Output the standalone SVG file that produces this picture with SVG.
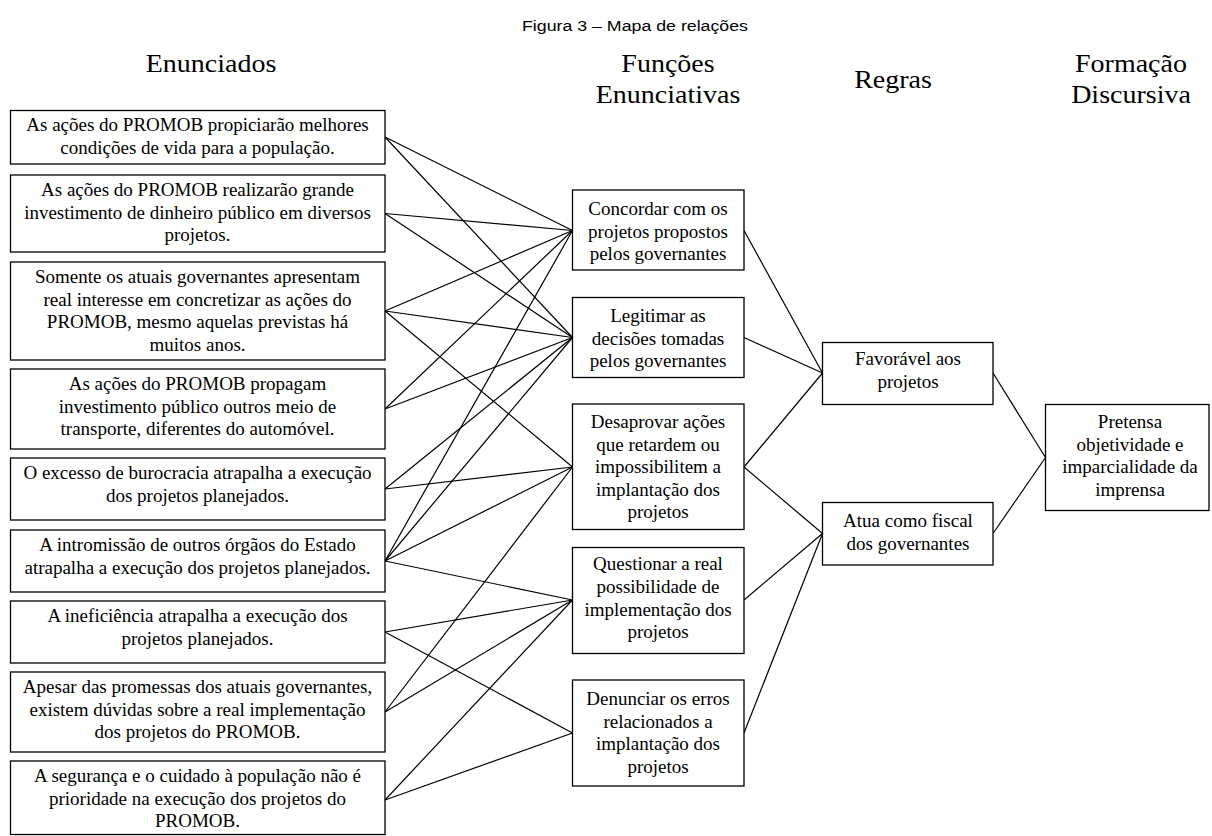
<svg xmlns="http://www.w3.org/2000/svg" width="1212" height="836" viewBox="0 0 1212 836">
<style>
.bx{fill:#fff;stroke:#000;stroke-width:1.3}
.t{font-family:"Liberation Serif","Times New Roman",serif;font-size:19px;fill:#000;text-anchor:middle}
.h{font-family:"Liberation Serif","Times New Roman",serif;font-size:25px;fill:#000;text-anchor:middle}
.ti{font-family:"Liberation Sans",Arial,sans-serif;font-size:15.5px;fill:#000;text-anchor:middle}
.c line{stroke:#000;stroke-width:1.2}
</style>
<rect width="1212" height="836" fill="#fff"/>
<text class="ti" x="635" y="31" textLength="226" lengthAdjust="spacingAndGlyphs">Figura 3 – Mapa de relações</text>
<g id="headers">
<g transform="translate(211,72) scale(1.12,1)"><text class="h" x="0" y="0">Enunciados</text></g>
<g transform="translate(668,72) scale(1.12,1)"><text class="h" x="0" y="0">Funções</text><text class="h" x="0" y="31">Enunciativas</text></g>
<g transform="translate(893,88) scale(1.12,1)"><text class="h" x="0" y="0">Regras</text></g>
<g transform="translate(1131,72) scale(1.12,1)"><text class="h" x="0" y="0">Formação</text><text class="h" x="0" y="31">Discursiva</text></g>
</g>
<g class="c" id="connectors">
<line x1="385" y1="137" x2="572.5" y2="230.5"/>
<line x1="385" y1="137" x2="572.5" y2="337.5"/>
<line x1="385" y1="213.5" x2="572.5" y2="230.5"/>
<line x1="385" y1="213.5" x2="572.5" y2="337.5"/>
<line x1="385" y1="311" x2="572.5" y2="230.5"/>
<line x1="385" y1="311" x2="572.5" y2="337.5"/>
<line x1="385" y1="311" x2="572.5" y2="467"/>
<line x1="385" y1="409" x2="572.5" y2="230.5"/>
<line x1="385" y1="409" x2="572.5" y2="337.5"/>
<line x1="385" y1="489" x2="572.5" y2="337.5"/>
<line x1="385" y1="489" x2="572.5" y2="467"/>
<line x1="385" y1="561" x2="572.5" y2="230.5"/>
<line x1="385" y1="561" x2="572.5" y2="337.5"/>
<line x1="385" y1="561" x2="572.5" y2="467"/>
<line x1="385" y1="561" x2="572.5" y2="600"/>
<line x1="385" y1="632" x2="572.5" y2="600"/>
<line x1="385" y1="632" x2="572.5" y2="733"/>
<line x1="385" y1="712" x2="572.5" y2="467"/>
<line x1="385" y1="712" x2="572.5" y2="600"/>
<line x1="385" y1="800" x2="572.5" y2="600"/>
<line x1="385" y1="800" x2="572.5" y2="733"/>
<line x1="744" y1="230.5" x2="822.5" y2="373"/>
<line x1="744" y1="337.5" x2="822.5" y2="373"/>
<line x1="744" y1="467" x2="822.5" y2="373"/>
<line x1="744" y1="467" x2="822.5" y2="533.5"/>
<line x1="744" y1="600" x2="822.5" y2="533.5"/>
<line x1="744" y1="733" x2="822.5" y2="533.5"/>
<line x1="993" y1="373" x2="1045.5" y2="457.5"/>
<line x1="993" y1="533.5" x2="1045.5" y2="457.5"/>
</g>
<g id="e1"><rect class="bx" x="10.5" y="110.5" width="374.5" height="53.5"/><text class="t" x="197.5" y="131">As ações do PROMOB propiciarão  melhores</text><text class="t" x="197.5" y="153.5">condições de vida para a população.</text></g>
<g id="e2"><rect class="bx" x="10.5" y="175" width="374.5" height="77"/><text class="t" x="197.5" y="196">As ações do PROMOB realizarão  grande</text><text class="t" x="197.5" y="218.5">investimento de dinheiro público em diversos</text><text class="t" x="197.5" y="241">projetos.</text></g>
<g id="e3"><rect class="bx" x="10.5" y="262" width="374.5" height="98"/><text class="t" x="197.5" y="283">Somente os atuais governantes apresentam</text><text class="t" x="197.5" y="305.5">real interesse em concretizar as ações do</text><text class="t" x="197.5" y="328">PROMOB, mesmo aquelas previstas há</text><text class="t" x="197.5" y="350.5">muitos anos.</text></g>
<g id="e4"><rect class="bx" x="10.5" y="369" width="374.5" height="80"/><text class="t" x="197.5" y="390">As ações do PROMOB propagam</text><text class="t" x="197.5" y="412.5">investimento público outros meio de</text><text class="t" x="197.5" y="435">transporte, diferentes do automóvel.</text></g>
<g id="e5"><rect class="bx" x="10.5" y="458" width="374.5" height="62"/><text class="t" x="197.5" y="479">O excesso de burocracia  atrapalha a execução</text><text class="t" x="197.5" y="501.5">dos projetos planejados.</text></g>
<g id="e6"><rect class="bx" x="10.5" y="530" width="374.5" height="62"/><text class="t" x="197.5" y="551">A intromissão de outros órgãos do Estado</text><text class="t" x="197.5" y="573.5">atrapalha a execução dos projetos planejados.</text></g>
<g id="e7"><rect class="bx" x="10.5" y="601" width="374.5" height="62"/><text class="t" x="197.5" y="622">A ineficiência  atrapalha a execução dos</text><text class="t" x="197.5" y="644.5">projetos planejados.</text></g>
<g id="e8"><rect class="bx" x="10.5" y="672" width="374.5" height="80"/><text class="t" x="197.5" y="693">Apesar das promessas dos atuais governantes,</text><text class="t" x="197.5" y="715.5">existem dúvidas sobre a real implementação</text><text class="t" x="197.5" y="738">dos projetos do PROMOB.</text></g>
<g id="e9"><rect class="bx" x="10.5" y="761" width="374.5" height="73.5"/><text class="t" x="197.5" y="782">A segurança e o cuidado à população não é</text><text class="t" x="197.5" y="804.5">prioridade na execução dos projetos do</text><text class="t" x="197.5" y="827">PROMOB.</text></g>
<g id="fA"><rect class="bx" x="572.5" y="190" width="171.5" height="80"/><text class="t" x="658" y="215">Concordar com os</text><text class="t" x="658" y="237.5">projetos propostos</text><text class="t" x="658" y="260">pelos governantes</text></g>
<g id="fB"><rect class="bx" x="572.5" y="297.5" width="171.5" height="80"/><text class="t" x="658" y="322">Legitimar as</text><text class="t" x="658" y="344.5">decisões tomadas</text><text class="t" x="658" y="367">pelos governantes</text></g>
<g id="fC"><rect class="bx" x="572.5" y="404" width="171.5" height="125.5"/><text class="t" x="658" y="428">Desaprovar ações</text><text class="t" x="658" y="450.5">que retardem ou</text><text class="t" x="658" y="473">impossibilitem a</text><text class="t" x="658" y="495.5">implantação dos</text><text class="t" x="658" y="518">projetos</text></g>
<g id="fD"><rect class="bx" x="572.5" y="547.5" width="171.5" height="106"/><text class="t" x="658" y="570">Questionar a real</text><text class="t" x="658" y="593">possibilidade de</text><text class="t" x="658" y="615.5">implementação dos</text><text class="t" x="658" y="638">projetos</text></g>
<g id="fE"><rect class="bx" x="572.5" y="680" width="171.5" height="106"/><text class="t" x="658" y="705">Denunciar os erros</text><text class="t" x="658" y="727.5">relacionados a</text><text class="t" x="658" y="750">implantação dos</text><text class="t" x="658" y="772.5">projetos</text></g>
<g id="rF"><rect class="bx" x="822.5" y="342.5" width="170.5" height="62"/><text class="t" x="908" y="365">Favorável aos</text><text class="t" x="908" y="388">projetos</text></g>
<g id="rG"><rect class="bx" x="822.5" y="502.5" width="170.5" height="62.5"/><text class="t" x="908" y="527">Atua como fiscal</text><text class="t" x="908" y="549.5">dos governantes</text></g>
<g id="fd"><rect class="bx" x="1045.5" y="404.5" width="163.5" height="106"/><text class="t" x="1130" y="428">Pretensa</text><text class="t" x="1130" y="450.5">objetividade e</text><text class="t" x="1130" y="473">imparcialidade da</text><text class="t" x="1130" y="495.5">imprensa</text></g>
</svg>
